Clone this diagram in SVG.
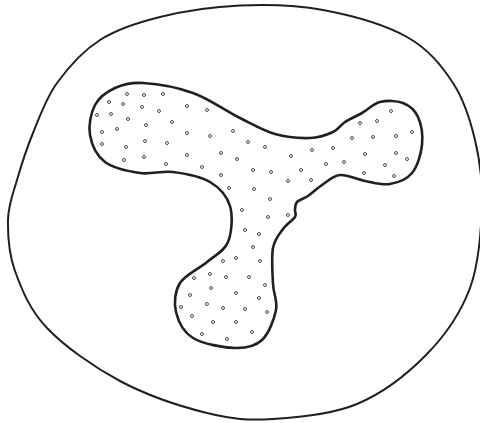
<svg xmlns="http://www.w3.org/2000/svg" xmlns:xlink="http://www.w3.org/1999/xlink" width="480" height="423" viewBox="0 0 480 423">
<style>
.outline{fill:none;stroke:#231f20;stroke-linejoin:round}
.outer{stroke-width:2}
.inner{stroke-width:2.6}
.dot{fill:#fff;stroke:#231f20;stroke-width:0.8}
</style>
<defs><circle id="d" r="1.5" class="dot"/></defs>
<rect width="480" height="423" fill="#fff"/>
<g id="outer-region">
<path class="outline outer" d="M240,5.5 C267.2,4.3 295.2,4.75 323,10 C350.8,15.25 385.3,24.8 407,37 C428.7,49.2 441.7,65.8 453,83 C464.3,100.2 470.2,119.7 475,140 C479.8,160.3 482.8,180.3 482,205 C481.2,229.7 479.2,263.2 470,288 C460.8,312.8 445.8,334.7 427,354 C408.2,373.3 382.7,393.2 357,404 C331.3,414.8 298,417.5 273,419 C248,420.5 232.5,419.3 207,413 C181.5,406.7 146.7,395.2 120,381 C93.3,366.8 64.5,346.3 47,328 C29.5,309.7 21.5,289 15,271 C8.5,253 7.7,235.2 8,220 C8.3,204.8 12.8,194.5 17,180 C21.2,165.5 26.3,149.2 33,133 C39.7,116.8 45.8,98.5 57,83 C68.2,67.5 82.8,51 100,40 C117.2,29 136.7,22.75 160,17 C183.3,11.25 212.8,6.7 240,5.5 Z"/>
</g>
<g id="inner-region">
<path class="outline inner" d="M143,83 C156,83.83 176.83,87.17 193,93 C209.17,98.83 226.33,111.17 240,118 C253.67,124.83 263.33,130.67 275,134 C286.67,137.33 300.33,138.33 310,138 C319.67,137.67 327.17,134.67 333,132 C338.83,129.33 340.17,125.17 345,122 C349.83,118.83 356.17,116.33 362,113 C367.83,109.67 373.17,103.67 380,102 C386.83,100.33 396.67,100.5 403,103 C409.33,105.5 414.83,110 418,117 C421.17,124 423,135.67 422,145 C421,154.33 417.33,166.5 412,173 C406.67,179.5 397.83,182.67 390,184 C382.17,185.33 373.33,182.5 365,181 C356.67,179.5 347.17,174.33 340,175 C332.83,175.67 327.33,181.5 322,185 C316.67,188.5 312.17,193.17 308,196 C303.83,198.83 299.17,199.67 297,202 C294.83,204.33 295.33,207.5 295,210 C294.67,212.5 297,213.83 295,217 C293,220.17 286.67,223.83 283,229 C279.33,234.17 274.67,238.83 273,248 C271.33,257.17 272.5,273.67 273,284 C273.5,294.33 277.83,300.67 276,310 C274.17,319.33 268.83,333.67 262,340 C255.17,346.33 246.5,348.33 235,348 C223.5,347.67 202.83,344 193,338 C183.17,332 178.17,321.17 176,312 C173.83,302.83 174.83,291.33 180,283 C185.17,274.67 199,268.83 207,262 C215,255.17 224.17,251.33 228,242 C231.83,232.67 233,216 230,206 C227,196 219.5,187.67 210,182 C200.5,176.33 184.67,173.5 173,172 C161.33,170.5 151.33,174.67 140,173 C128.67,171.33 113.33,168.33 105,162 C96.67,155.67 91.67,144.5 90,135 C88.33,125.5 90.83,112.83 95,105 C99.17,97.17 107,91.67 115,88 C123,84.33 130,82.17 143,83 Z"/>
</g>
<g id="dots">
<use xlink:href="#d" x="127" y="94"/><use xlink:href="#d" x="144" y="95"/><use xlink:href="#d" x="163" y="94"/><use xlink:href="#d" x="109" y="102"/><use xlink:href="#d" x="123" y="104"/><use xlink:href="#d" x="142" y="107"/><use xlink:href="#d" x="159" y="111"/><use xlink:href="#d" x="187" y="106"/><use xlink:href="#d" x="207" y="110"/><use xlink:href="#d" x="97" y="115"/><use xlink:href="#d" x="111" y="114"/><use xlink:href="#d" x="128" y="119"/><use xlink:href="#d" x="146" y="125"/><use xlink:href="#d" x="172" y="122"/><use xlink:href="#d" x="102" y="132"/><use xlink:href="#d" x="117" y="129"/><use xlink:href="#d" x="187" y="133"/><use xlink:href="#d" x="210" y="136"/><use xlink:href="#d" x="233" y="131"/><use xlink:href="#d" x="102" y="144"/><use xlink:href="#d" x="126" y="147"/><use xlink:href="#d" x="145" y="141"/><use xlink:href="#d" x="167" y="143"/><use xlink:href="#d" x="248" y="142"/><use xlink:href="#d" x="265" y="147"/><use xlink:href="#d" x="124" y="160"/><use xlink:href="#d" x="144" y="157"/><use xlink:href="#d" x="187" y="155"/><use xlink:href="#d" x="166" y="164"/><use xlink:href="#d" x="221" y="153"/><use xlink:href="#d" x="237" y="159"/><use xlink:href="#d" x="202" y="167"/><use xlink:href="#d" x="253" y="170"/><use xlink:href="#d" x="271" y="172"/><use xlink:href="#d" x="221" y="175"/><use xlink:href="#d" x="229" y="188"/><use xlink:href="#d" x="254" y="189"/><use xlink:href="#d" x="270" y="199"/>
<use xlink:href="#d" x="391" y="111"/><use xlink:href="#d" x="360" y="123"/><use xlink:href="#d" x="377" y="121"/><use xlink:href="#d" x="352" y="138"/><use xlink:href="#d" x="373" y="137"/><use xlink:href="#d" x="396" y="136"/><use xlink:href="#d" x="412" y="132"/><use xlink:href="#d" x="291" y="156"/><use xlink:href="#d" x="312" y="150"/><use xlink:href="#d" x="333" y="148"/><use xlink:href="#d" x="365" y="154"/><use xlink:href="#d" x="396" y="153"/><use xlink:href="#d" x="407" y="159"/><use xlink:href="#d" x="326" y="164"/><use xlink:href="#d" x="344" y="162"/><use xlink:href="#d" x="301" y="170"/><use xlink:href="#d" x="385" y="165"/><use xlink:href="#d" x="288" y="181"/><use xlink:href="#d" x="311" y="180"/><use xlink:href="#d" x="364" y="173"/><use xlink:href="#d" x="394" y="176"/>
<use xlink:href="#d" x="242" y="210"/><use xlink:href="#d" x="268" y="217"/><use xlink:href="#d" x="288" y="215"/><use xlink:href="#d" x="245" y="230"/><use xlink:href="#d" x="259" y="234"/><use xlink:href="#d" x="253" y="247"/><use xlink:href="#d" x="223" y="261"/><use xlink:href="#d" x="236" y="258"/><use xlink:href="#d" x="260" y="261"/><use xlink:href="#d" x="194" y="278"/><use xlink:href="#d" x="210" y="274"/><use xlink:href="#d" x="226" y="277"/><use xlink:href="#d" x="249" y="277"/><use xlink:href="#d" x="265" y="285"/><use xlink:href="#d" x="211" y="288"/><use xlink:href="#d" x="190" y="295"/><use xlink:href="#d" x="236" y="293"/><use xlink:href="#d" x="259" y="298"/><use xlink:href="#d" x="207" y="304"/><use xlink:href="#d" x="181" y="307"/><use xlink:href="#d" x="223" y="308"/><use xlink:href="#d" x="245" y="309"/><use xlink:href="#d" x="267" y="312"/><use xlink:href="#d" x="192" y="316"/><use xlink:href="#d" x="213" y="322"/><use xlink:href="#d" x="236" y="322"/><use xlink:href="#d" x="202" y="334"/><use xlink:href="#d" x="252" y="332"/><use xlink:href="#d" x="227" y="339"/>
</g>
</svg>
